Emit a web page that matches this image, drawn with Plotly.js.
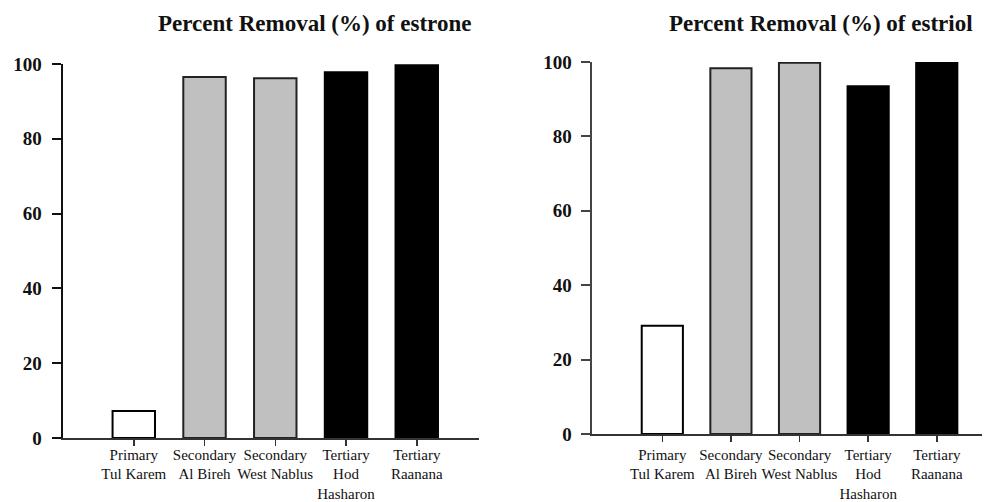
<!DOCTYPE html>
<html>
<head>
<meta charset="utf-8">
<script src="https://cdn.plot.ly/plotly-3.0.1.min.js"></script>
<style>html,body{margin:0;padding:0;background:#fff;}#chart{width:985px;height:502px;}</style>
</head>
<body>
<div id="chart"></div>
<script>
const categories = ["Primary<br>Tul Karem", "Secondary<br>Al Bireh", "Secondary<br>West Nablus", "Tertiary<br>Hod<br>Hasharon", "Tertiary<br>Raanana"];
const estrone = [7.2, 96.5, 96.2, 97.8, 99.7];
const estriol = [29.1, 98.3, 99.8, 93.5, 99.8];
const fillColors = ["#ffffff", "#c0c0c0", "#c0c0c0", "#000000", "#000000"];
const lineColors = ["#000000", "#222222", "#222222", "#000000", "#000000"];
const yTicks = [0, 20, 40, 60, 80, 100];
const titles = ["Percent Removal (%) of estrone", "Percent Removal (%) of estriol"];

const serif = "Liberation Serif";

const traces = [
  {type: "bar", x: categories, y: estrone, xaxis: "x", yaxis: "y", width: 0.6,
   marker: {color: fillColors, line: {color: lineColors, width: 2}}, hoverinfo: "skip"},
  {type: "bar", x: categories, y: estriol, xaxis: "x2", yaxis: "y2", width: 0.6,
   marker: {color: fillColors, line: {color: lineColors, width: 2}}, hoverinfo: "skip"}
];

function xa(domain, range, standoff) {
  return {domain: domain, range: range, type: "category", showgrid: false, zeroline: false,
    showline: true, linecolor: "#333", linewidth: 2, ticks: "outside", ticklen: 6, tickwidth: 1.5,
    tickcolor: "#333", tickangle: 0, automargin: false, ticklabelstandoff: standoff,
    tickfont: {family: serif, size: 15, color: "#111"}, fixedrange: true};
}
function ya(domain, lw, lc) {
  return {domain: domain, range: [0, 100], showgrid: false, zeroline: false,
    showline: true, linecolor: lc, linewidth: lw, ticks: "outside", ticklen: 9, tickwidth: 2,
    tickcolor: lc, tickvals: yTicks, ticktext: yTicks.map(String), ticklabelstandoff: 6,
    tickfont: {family: serif, size: 19, color: "#111", weight: "bold"}, fixedrange: true};
}

const layout = {
  width: 985, height: 502, margin: {l: 0, r: 0, t: 0, b: 0},
  font: {family: serif},
  paper_bgcolor: "#fff", plot_bgcolor: "rgba(0,0,0,0)", showlegend: false, bargap: 0.4,
  xaxis: xa([0.064, 0.4863], [-1.0, 4.88], -4),
  yaxis: ya([0.1275, 0.8725], 2.5, "#111"),
  xaxis2: xa([0.601, 0.997], [-1.025, 4.66], 0),
  yaxis2: ya([0.1355, 0.8765], 1.5, "#444"),
  annotations: [
    {text: titles[0], xref: "paper", yref: "paper", x: 314/985, y: 1 - 24/502, xanchor: "center", yanchor: "middle",
     showarrow: false, font: {family: serif, size: 23, color: "#111", weight: "bold"}},
    {text: titles[1], xref: "paper", yref: "paper", x: 821/985, y: 1 - 24/502, xanchor: "center", yanchor: "middle",
     showarrow: false, font: {family: serif, size: 23, color: "#111", weight: "bold"}}
  ]
};
layout.xaxis2.anchor = "y2";
layout.yaxis2.anchor = "x2";

Plotly.newPlot("chart", traces, layout, {displayModeBar: false, staticPlot: true});
</script>
</body>
</html>
